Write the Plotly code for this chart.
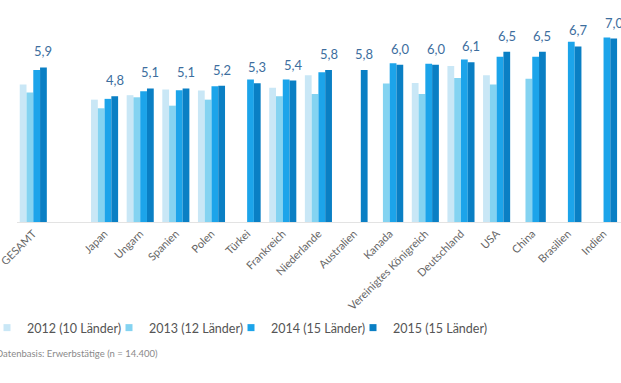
import plotly.graph_objects as go

categories = ["GESAMT", " ", "Japan", "Ungarn", "Spanien", "Polen", "Türkei", "Frankreich",
              "Niederlande", "Australien", "Kanada", "Vereinigtes Königreich", "Deutschland",
              "USA", "China", "Brasilien", "Indien"]

series_names = ["2012 (10 Länder)", "2013 (12 Länder)", "2014 (15 Länder)", "2015 (15 Länder)"]

v2012 = [5.25, None, 4.67, 4.84, 5.06, 5.02, None, 5.12, 5.60, None, None, 5.31, 5.95, 5.60, None, None, None]
v2013 = [4.94, None, 4.34, 4.76, 4.44, 4.67, None, 4.80, 4.89, None, 5.29, 4.89, 5.50, 5.25, 5.47, None, None]
v2014 = [5.80, None, 4.70, 4.99, 5.03, 5.18, 5.44, 5.44, 5.72, None, 6.06, 6.04, 6.20, 6.31, 6.31, 6.88, 7.04]
v2015 = [5.90, None, 4.80, 5.10, 5.10, 5.20, 5.30, 5.40, 5.80, 5.80, 6.00, 6.00, 6.10, 6.50, 6.50, 6.70, 7.00]

colors = ["#c9e7f6", "#84d3f1", "#1ca4ea", "#0a7fc4"]
FONT = "Lato"

fig = go.Figure()
for i, (name, vals, col) in enumerate(zip(series_names, [v2012, v2013, v2014, v2015], colors)):
    fig.add_trace(go.Bar(x=categories, y=vals, name=name, marker_color=col,
                         marker_line_width=0, showlegend=False))
    # legend entry with a small square marker
    fig.add_trace(go.Scatter(x=[None], y=[None], mode="markers", name=name,
                             legendwidth=(77 if i < 3 else 120),
                             marker=dict(symbol="square", size=7, color=col)))

for cat, v in zip(categories, v2015):
    if v is None:
        continue
    fig.add_annotation(x=cat, y=v, text=f"{v:.1f}".replace(".", ","), showarrow=False,
                       xanchor="center", yanchor="bottom", xshift=10.2, yshift=6,
                       font=dict(family=FONT, size=13, color="#3d6e9e"))

fig.add_annotation(xref="paper", yref="paper", x=-23 / 604, y=(222 - 353) / 202,
                   xanchor="left", yanchor="middle", showarrow=False,
                   text="Datenbasis: Erwerbstätige (n = 14.400)",
                   font=dict(family=FONT, size=9.5, color="#8a8a8a"))

fig.update_layout(
    width=621, height=383,
    margin=dict(l=17, r=0, t=20, b=161, autoexpand=False),
    paper_bgcolor="white", plot_bgcolor="white",
    barmode="group", bargap=0.24, bargroupgap=0,
    font=dict(family=FONT, color="#666666"),
    showlegend=True,
    legend=dict(orientation="h", x=-30 / 604, xanchor="left", y=(222 - 328) / 202, yanchor="middle",
                font=dict(family=FONT, size=12.5, color="#555555"),
                itemwidth=30, entrywidthmode="pixels",
                bgcolor="rgba(0,0,0,0)"),
    xaxis=dict(type="category", categoryorder="array", categoryarray=categories,
               range=[-0.457, 16.49], tickangle=-45, automargin=False,
               tickfont=dict(family=FONT, size=11, color="#666666"),
               showline=True, linecolor="#e3e3e3", linewidth=1, ticks="",
               showgrid=False, fixedrange=True),
    yaxis=dict(range=[0, 202 / 26.2], visible=False, showgrid=False, zeroline=False,
               fixedrange=True),
)

# remove the browser's default 8px page margin so the 621x383 figure fills the window exactly
fig.write_html("out.html", config={"displayModeBar": False},
               post_script="document.body.style.margin='0px';")
